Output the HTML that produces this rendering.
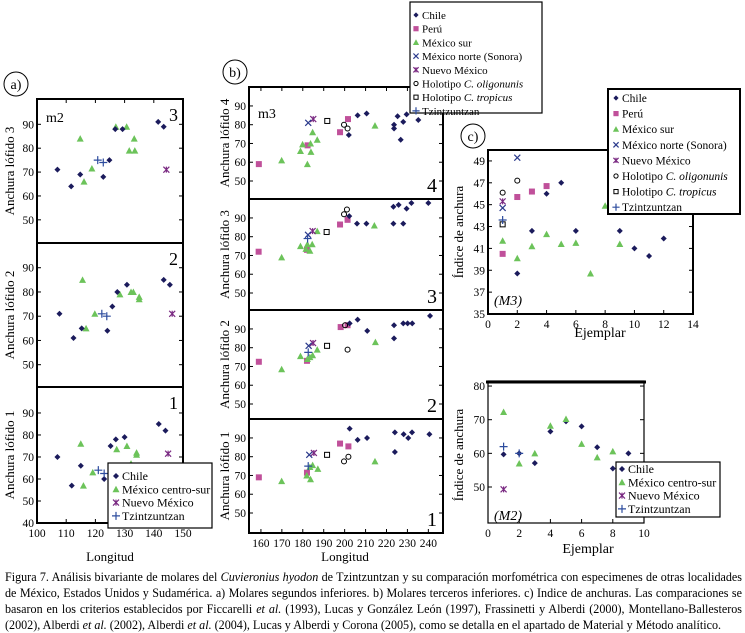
<!DOCTYPE html>
<html><head><meta charset="utf-8">
<style>
body{margin:0;background:#fff;width:745px;height:633px;overflow:hidden;font-family:"Liberation Serif",serif}
svg{position:absolute;left:0;top:0}
svg text{font-family:"Liberation Serif",serif}
#cap{position:absolute;left:5px;top:569px;width:737px;font-size:12.1px;line-height:16px;text-align:justify;color:#000}
</style></head><body>
<svg id="fig" width="745" height="633" viewBox="0 0 745 633"></svg>
<div id="cap">Figura 7. Análisis bivariante de molares del <i>Cuvieronius hyodon</i> de Tzintzuntzan y su comparación morfométrica con especimenes de otras localidades de México, Estados Unidos y Sudamérica. a) Molares segundos inferiores. b) Molares terceros inferiores. c) Indice de anchuras. Las comparaciones se basaron en los criterios establecidos por Ficcarelli <i>et al.</i> (1993), Lucas y González León (1997), Frassinetti y Alberdi (2000), Montellano-Ballesteros (2002), Alberdi <i>et al.</i> (2002), Alberdi <i>et al.</i> (2004), Lucas y Alberdi y Corona (2005), como se detalla en el apartado de Material y Método analítico.</div>
<script>
// ---- Panel a (m2): [Longitud, Anchura]
const a3_chile=[[107,71],[111.7,64],[114.8,69],[122.7,68],[124.8,75],[126.8,88],[129.3,88],[141.5,91],[143.4,89]];
const a3_mex=[[114.8,84],[116.1,66],[118.8,71.5],[127,89],[130.7,89],[131.6,79],[133.3,84],[133.5,79]];
const a3_nm=[[144.3,71]];
const a3_tz=[[120.8,75],[122.7,74]];
const a2_chile=[[107.7,71],[112.5,61],[115.3,65],[124.1,64],[125.8,74],[127.5,80],[130.8,83],[143.4,85],[145.5,83]];
const a2_mex=[[115.6,85],[116.8,65],[119.8,71],[128.4,79],[132.2,80],[133,80],[135,78],[135,77]];
const a2_nm=[[146.3,71]];
const a2_tz=[[122.2,71],[123.9,70]];
const a1_chile=[[107,70],[115,66],[111.9,57],[123,60],[125.2,75],[127,78],[130,79],[141.7,85],[144,82]];
const a1_mex=[[115,76],[115.9,57],[119.1,63],[127.3,73.5],[130.8,75],[132.2,67],[134.1,72],[134.1,71]];
const a1_nm=[[144.9,71.5]];
const a1_tz=[[121,64],[123,62.5]];
const aTicksX=[100,110,120,130,140,150];
const aTicksY=[50,60,70,80,90];
// ---- Panel b (m3)
const b4_peru=[[159,59],[197.8,76],[201.6,83],[182.3,69]];
const b4_mex=[[169.9,61],[178.9,66],[179.9,69.5],[182.2,59],[183.7,70],[183.9,65.5],[184.7,76],[186.9,72],[214.5,79.5]];
const b4_chile=[[202,74.5],[206.2,85],[210.5,86],[223.6,80],[223.6,78],[225.3,84.5],[228,81.5],[226.8,72],[229.6,85.5],[235.2,82.5]];
const b4_oli=[[199.7,80],[201.4,78]];
const b4_tro=[[191.7,82]];
const b4_nm=[[185,83]];
const b4_son=[[182.6,81]];
const b4_tz=[];
const b3_peru=[[158.9,72],[197.8,86.5],[201.4,89],[182,73]];
const b3_mex=[[169.9,69],[178.9,75],[181.5,73.5],[182.2,76],[183.4,72.5],[184.5,76],[186.9,83],[214.2,86]];
const b3_chile=[[202.2,91],[205.9,87],[210.4,87],[223.3,96],[225.8,97],[229.6,95],[231.9,98],[223.3,87],[228,87],[240,98]];
const b3_oli=[[199.7,92],[201.1,94.5]];
const b3_tro=[[191.4,82.5]];
const b3_nm=[[184.7,83]];
const b3_son=[[182.5,81]];
const b3_tz=[[182.3,79]];
const b2_peru=[[159,72.5],[198.1,91],[201.4,92],[182,73]];
const b2_mex=[[169.9,68.5],[178.9,75.5],[182.2,74],[183.4,75],[184.7,76],[186.9,79],[214.7,83]];
const b2_chile=[[202.4,93],[206.2,95],[210.8,89],[223.6,92],[223.6,85],[228,93],[230.1,93],[232.3,93],[240.8,97]];
const b2_oli=[[200.2,92],[201.4,79]];
const b2_tro=[[191.6,81]];
const b2_nm=[[184.9,82.5]];
const b2_son=[[182.8,81]];
const b2_tz=[[182.6,77.5]];
const b1_peru=[[159,69],[197.8,87],[201.8,85.5],[182,71.5]];
const b1_mex=[[169.9,67],[181.9,70],[183.7,68],[184.7,75.5],[187.2,73.5],[214.5,77.5],[183.4,74.5]];
const b1_chile=[[202.4,95],[206.2,89],[210.7,90],[224,93],[224,82.5],[228.2,92],[230.4,90],[232.2,93],[240.5,92]];
const b1_oli=[[199.7,77.5],[201.8,80]];
const b1_tro=[[191.6,81]];
const b1_nm=[[185.3,82]];
const b1_son=[[183.1,81]];
const b1_tz=[[182.6,75]];
const bTicksX=[160,170,180,190,200,210,220,230,240];
const bTicksY=[50,60,70,80,90];
// ---- Panel c
const m3_chile=[[2,38.7],[3,42.6],[4,46],[5,47],[6,42.6],[9,42.6],[10,41],[11,40.3],[12,41.9]];
const m3_peru=[[1,40.5],[2,45.7],[3,46.2],[4,46.7]];
const m3_mex=[[1,41.7],[2,40.1],[3,41.2],[4,42.3],[5,41.4],[6,41.5],[7,38.7],[8,44.9],[9,41.4]];
const m3_son=[[1,44.7],[2,49.3]];
const m3_nm=[[1,45.3]];
const m3_oli=[[1,46.1],[2,47.2]];
const m3_tro=[[1,43.2]];
const m3_tz=[[1,43.6]];
const m3TicksX=[0,2,4,6,8,10,12,14];
const m3TicksY=[35,37,39,41,43,45,47,49];
const m2_chile=[[1,59.7],[2,60],[3,57.1],[4,66.5],[5,69.5],[6,68],[7,61.8],[8,55.5],[9,60]];
const m2_mex=[[1,72.3],[2,57],[3,60],[4,68.2],[5,70.2],[6,62.8],[7,58.8],[8,60.6]];
const m2_nm=[[1,49.3]];
const m2_tz=[[1,62],[2,60]];
const m2TicksX=[0,2,4,6,8,10];
const m2TicksY=[50,60,70,80];

const NS="http://www.w3.org/2000/svg";
const svg=document.getElementById('fig');
function mk(tag,attrs,parent){const e=document.createElementNS(NS,tag);for(const k in attrs)e.setAttribute(k,attrs[k]);(parent||svg).appendChild(e);return e;}
function txt(x,y,s,size,parent,anchor,extra){const t=mk('text',Object.assign({x:x,y:y,'font-size':size,'text-anchor':anchor||'start'},extra||{}),parent);t.textContent=s;return t;}
const COL={chile:'#1b1b5c',mex:'#6cc35a',peru:'#c0509a',nm:'#7a2a82',son:'#2b3a8c',tz:'#2d4c9e',oli:'#000',tro:'#000'};
function marker(g,type,x,y,s){
  s=s||3;
  if(type==='chile')return mk('path',{d:`M${x} ${y-s}L${x+s} ${y}L${x} ${y+s}L${x-s} ${y}Z`,fill:COL.chile},g);
  if(type==='peru')return mk('rect',{x:x-s,y:y-s,width:2*s,height:2*s,fill:COL.peru},g);
  if(type==='mex')return mk('path',{d:`M${x} ${y-s-0.5}L${x+s+0.5} ${y+s}L${x-s-0.5} ${y+s}Z`,fill:COL.mex},g);
  if(type==='son')return mk('path',{d:`M${x-s} ${y-s}L${x+s} ${y+s}M${x+s} ${y-s}L${x-s} ${y+s}`,stroke:COL.son,'stroke-width':1.2},g);
  if(type==='nm')return mk('path',{d:`M${x-s} ${y-s}L${x+s} ${y+s}M${x+s} ${y-s}L${x-s} ${y+s}M${x} ${y-s}L${x} ${y+s}`,stroke:COL.nm,'stroke-width':1.2},g);
  if(type==='tz')return mk('path',{d:`M${x-s-1} ${y}L${x+s+1} ${y}M${x} ${y-s-1}L${x} ${y+s+1}`,stroke:COL.tz,'stroke-width':1.2},g);
  if(type==='oli')return mk('circle',{cx:x,cy:y,r:s-0.5,fill:'none',stroke:'#000','stroke-width':1},g);
  if(type==='tro')return mk('rect',{x:x-s+0.5,y:y-s+0.5,width:2*s-1,height:2*s-1,fill:'none',stroke:'#000','stroke-width':1},g);
}
function plot(name,px0,px1,py0,py1,xd,yd,series,ticksY,showLabelsY){
  const g=mk('g',{});
  
  
  const sx=v=>px0+(v-xd[0])/(xd[1]-xd[0])*(px1-px0);
  const sy=v=>py1-(v-yd[0])/(yd[1]-yd[0])*(py1-py0);
  ticksY.forEach(t=>{const y=sy(t);mk('line',{x1:px0,x2:px0+4,y1:y,y2:y,stroke:'#000'},g);mk('line',{x1:px1,x2:px1-4,y1:y,y2:y,stroke:'#000'},g);
    if(showLabelsY){const tl=txt(px0-3,y+4,String(t),11.5,g,'end');}});
  for(const [type,arr] of series){arr.forEach(p=>{const m=marker(g,type,sx(p[0]),sy(p[1]));});}
  return {g,sx,sy};
}
function frame(x0,x1,y0,y1,w){mk('rect',{x:x0,y:y0,width:x1-x0,height:y1-y0,fill:'none',stroke:'#000','stroke-width':w||2});}
function xTicks(sx,ticks,y,top,labels){ticks.forEach(t=>{const x=sx(t);mk('line',{x1:x,x2:x,y1:y,y2:y-4,stroke:'#000'});if(top!==null)mk('line',{x1:x,x2:x,y1:top,y2:top+4,stroke:'#000'});
  if(labels){const tl=txt(x,y+14,String(t),11.5,null,'middle');}});}
function ylab(x,yc,s,name){const t=txt(x,yc,s,13,null,'middle',{transform:`rotate(-90 ${x} ${yc})`});}

// ---- Panel a
const aX=[100,150];
const aSub=[[99,243,[40.3,100.6],a3_chile,a3_mex,a3_nm,a3_tz,'3'],[243,387,[40.8,100.2],a2_chile,a2_mex,a2_nm,a2_tz,'2'],[387,523,[40,101.8],a1_chile,a1_mex,a1_nm,a1_tz,'1']];
let aSx;
aSub.forEach((s,i)=>{const p=plot('panel-a-lofido-'+s[7],37,183,s[0],s[1],aX,s[2],[['mex',s[4]],['chile',s[3]],['nm',s[5]],['tz',s[6]]],aTicksY,true);aSx=p.sx;
  txt(178,s[0]+22,s[7],18,null,'end');ylab(14,(s[0]+s[1])/2,'Anchura lófido '+s[7],'y-axis-title-a'+s[7]);});
frame(37,183,99,523);mk('line',{x1:37,x2:183,y1:243,y2:243,stroke:'#000','stroke-width':2});mk('line',{x1:37,x2:183,y1:387,y2:387,stroke:'#000','stroke-width':2});
xTicks(aSx,aTicksX,523,99,true);
txt(34,527,'40',11.5,null,'end');
txt(46,122,'m2',14);
txt(110,561,'Longitud',13,null,'middle');
mk('circle',{cx:16,cy:84,r:12,fill:'none',stroke:'#000','stroke-width':1});txt(16,89,'a)',14,null,'middle');
const la=mk('g',{});
mk('rect',{x:108,y:463,width:104,height:65,fill:'#fff',stroke:'#000','stroke-width':1.2},la);
[['chile','Chile'],['mex','México centro-sur'],['nm','Nuevo México'],['tz','Tzintzuntzan']].forEach((e,i)=>{const y=480+i*13.3;marker(la,e[0],116,y-4);const t=txt(122,y,e[1],12,la);});

// ---- Panel b
const bX=[154.3,247];
const bSub=[[87,199,'4',b4_peru,b4_mex,b4_chile,b4_oli,b4_tro,b4_nm,b4_son,b4_tz],[199,310,'3',b3_peru,b3_mex,b3_chile,b3_oli,b3_tro,b3_nm,b3_son,b3_tz],[310,419,'2',b2_peru,b2_mex,b2_chile,b2_oli,b2_tro,b2_nm,b2_son,b2_tz],[419,533,'1',b1_peru,b1_mex,b1_chile,b1_oli,b1_tro,b1_nm,b1_son,b1_tz]];
let bSx;
bSub.forEach(s=>{const h=s[1]-s[0];
  const yd2=[50-(h-19-75)/1.875,100.1];
  const p=plot('panel-b-lofido-'+s[2],249,443,s[0],s[1],bX,yd2,[['peru',s[3]],['mex',s[4]],['chile',s[5]],['oli',s[6]],['tro',s[7]],['nm',s[8]],['son',s[9]],['tz',s[10]]],bTicksY,true);bSx=p.sx;
  txt(437,s[1]-7,s[2],20,null,'end');ylab(229,(s[0]+s[1])/2,'Anchura lófido '+s[2],'y-axis-title-b'+s[2]);});
frame(249,443,87,533);[199,310,419].forEach(y=>mk('line',{x1:249,x2:443,y1:y,y2:y,stroke:'#000','stroke-width':2}));
xTicks(bSx,bTicksX,533,87,true);
txt(258,118,'m3',14);
txt(345,561,'Longitud',13,null,'middle');
mk('circle',{cx:235,cy:72,r:12,fill:'none',stroke:'#000','stroke-width':1});txt(235,77,'b)',14,null,'middle');
const lb=mk('g',{});
mk('rect',{x:410,y:2,width:132,height:111,fill:'#fff',stroke:'#000','stroke-width':1.2},lb);
const lbE=[['chile','Chile'],['peru','Perú'],['mex','México sur'],['son','México norte (Sonora)'],['nm','Nuevo México'],['oli','Holotipo <i>C. oligonunis</i>'],['tro','Holotipo <i>C. tropicus</i>'],['tz','Tzintzuntzan']];
function legendBig(g,x,y0,dy,size){lbE.forEach((e,i)=>{const y=y0+i*dy;marker(g,e[0],x,y-4,2.6);const t=mk('text',{x:x+6,y:y,'font-size':size},g);t.innerHTML=e[1].replace(/<i>(.*?)<\/i>/,'<tspan font-style="italic">$1</tspan>');});}
legendBig(lb,416,19,13.7,11);

// ---- Panel c M3
const pm3=plot('panel-c-m3',488,693,150,314,[0,14],[35,50],[['chile',m3_chile],['peru',m3_peru],['mex',m3_mex],['son',m3_son],['nm',m3_nm],['oli',m3_oli],['tro',m3_tro],['tz',m3_tz]],m3TicksY,true);
frame(488,693,150,314);xTicks(pm3.sx,m3TicksX,314,null,true);
txt(494,305,'(M3)',14,null,'start',{'font-style':'italic'});
ylab(463,232,'Índice de anchura','y-axis-title-m3');
txt(600,337,'Ejemplar',14,null,'middle');
mk('circle',{cx:473,cy:136,r:12,fill:'none',stroke:'#000','stroke-width':1});txt(473,141,'c)',14,null,'middle');
const lc=mk('g',{});
mk('rect',{x:608,y:89,width:132,height:125,fill:'#fff',stroke:'#000','stroke-width':2},lc);
legendBig(lc,616,102,15.6,11.5);

// ---- Panel c M2
const pm2=plot('panel-c-m2',488,644,381,523,[0,10],[39.3,81.5],[['chile',m2_chile],['mex',m2_mex],['nm',m2_nm],['tz',m2_tz]],m2TicksY,true);
frame(488,644,381,523,1.2);mk('line',{x1:486,x2:646,y1:382,y2:382,stroke:'#000','stroke-width':3});
xTicks(pm2.sx,m2TicksX,523,null,true);
txt(494,520,'(M2)',14,null,'start',{'font-style':'italic'});
ylab(463,455,'Índice de anchura','y-axis-title-m2');
txt(588,553,'Ejemplar',14,null,'middle');
const l2=mk('g',{});
mk('rect',{x:616,y:462,width:104,height:55,fill:'#fff',stroke:'#000','stroke-width':1.2},l2);
[['chile','Chile'],['mex','México centro-sur'],['nm','Nuevo México'],['tz','Tzintzuntzan']].forEach((e,i)=>{const y=473+i*13.3;marker(l2,e[0],622,y-4);const t=txt(628,y,e[1],12,l2);});
</script>
</body></html>
